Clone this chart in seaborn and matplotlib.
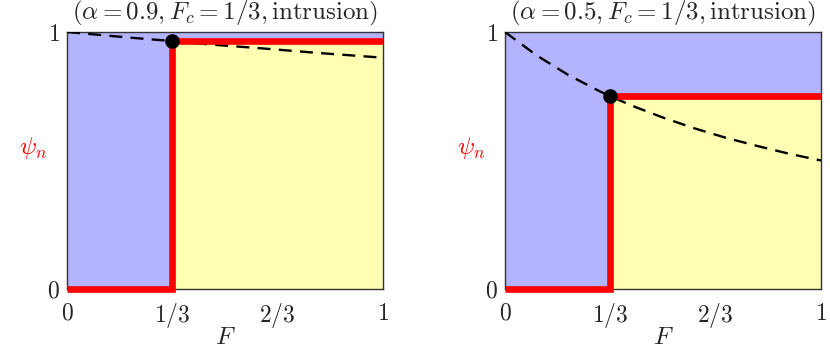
import numpy as np
import matplotlib
matplotlib.use("Agg")
import matplotlib.pyplot as plt
import seaborn as sns

sns.set_style("white")
plt.rcParams['mathtext.fontset'] = 'cm'
plt.rcParams['font.family'] = ['DejaVu Serif']

# Data
F_grid = [0.0, 0.1, 0.2, 0.3, 0.4, 0.5, 0.6, 0.7, 0.8, 0.9, 1.0]
psi_a09 = [1.000, 0.989, 0.978, 0.968, 0.957, 0.947, 0.938, 0.928, 0.918, 0.909, 0.900]
psi_a05 = [1.000, 0.909, 0.833, 0.769, 0.714, 0.667, 0.625, 0.588, 0.556, 0.526, 0.500]
F_c = 1/3
psi_c = [0.964, 0.750]
titles = [r'$(\alpha = 0.9, F_c = 1/3, \mathrm{intrusion})$',
          r'$(\alpha = 0.5, F_c = 1/3, \mathrm{intrusion})$']
xticks = [0, 1/3, 2/3, 1]
xticklabels = [r'$0$', r'$1/3$', r'$2/3$', r'$1$']
yticks = [0, 1]
yticklabels = [r'$0$', r'$1$']

blue = '#b3b3ff'
yellow = '#ffffb3'
red = '#ff0000'

fig = plt.figure(figsize=(8.3, 3.57), dpi=100)
axes = [fig.add_axes([67/830, 68/357, 316/830, 257/357]),
        fig.add_axes([505/830, 68/357, 316/830, 257/357])]

for ax, psi, pc, title in zip(axes, [psi_a09, psi_a05], psi_c, titles):
    ax.set_facecolor(blue)
    ax.fill_between([F_c, 1], [0, 0], [pc, pc], color=yellow, lw=0, zorder=1)
    sns.lineplot(x=F_grid, y=psi, ax=ax, color='black', lw=1.7,
                 linestyle=(0, (5.5, 3.5)), zorder=3)
    ax.plot([0, F_c, F_c, 1], [0, 0, pc, pc], color=red, lw=4.8,
            solid_joinstyle='miter', solid_capstyle='butt',
            clip_on=False, zorder=4)
    ax.plot([F_c], [pc], 'o', color='black', ms=9.5, zorder=5, clip_on=False)
    ax.set_xlim(0, 1)
    ax.set_ylim(0, 1)
    ax.set_xticks(xticks)
    ax.set_xticklabels(xticklabels, fontsize=17)
    ax.set_yticks(yticks)
    ax.set_yticklabels(yticklabels, fontsize=17)
    ax.tick_params(axis='x', length=0, pad=9)
    ax.tick_params(axis='y', length=0, pad=5)
    ax.set_xlabel(r'$F$', fontsize=18, labelpad=-3)
    ax.set_ylabel(r'$\psi_n$', fontsize=18, color=red, rotation=0, va='center')
    ax.yaxis.set_label_coords(-0.108, 0.55)
    ax.set_title(title, fontsize=18, pad=9)
    for s in ax.spines.values():
        s.set_color('#333333')
        s.set_linewidth(1.0)
        s.set_visible(True)

fig.savefig('out.png', dpi=100)
